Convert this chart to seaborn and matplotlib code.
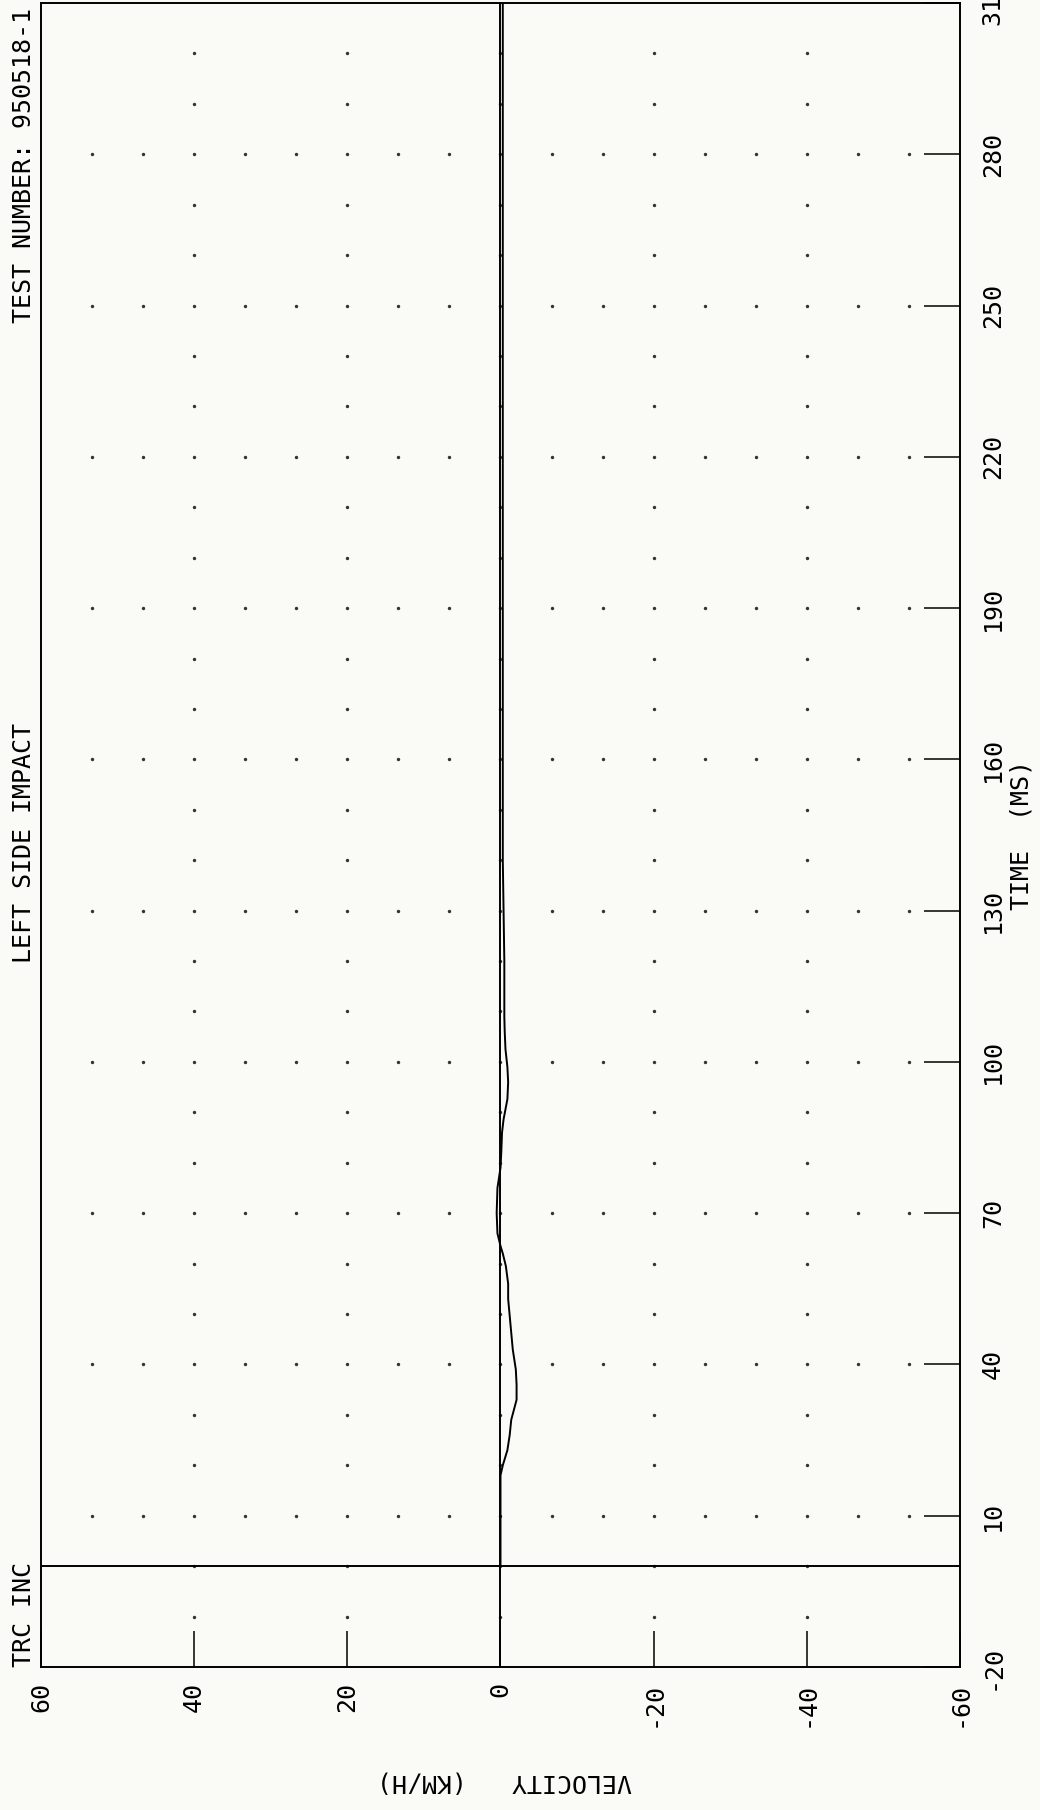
import numpy as np
import pandas as pd
import matplotlib
matplotlib.use("Agg")
import matplotlib.pyplot as plt
import seaborn as sns

# ---------------- data ----------------
time_ms = [0, 5, 10, 15, 18, 20, 23, 26, 29, 33, 36, 39, 43, 48, 53, 56, 59.5, 62, 63.5,
           66, 70, 75, 79, 82, 86, 88.6, 92.6, 96, 99, 102.5, 106, 109, 115, 120, 125,
           130, 135, 140, 150, 160, 170, 180, 190, 200, 220, 240, 260, 280, 300, 310]
velocity_kmh = [0, 0, 0, 0, 0, -0.3, -0.9, -1.2, -1.4, -2.1, -2.1, -2.0, -1.6, -1.3, -1.0, -1.0, -0.7, -0.3, 0.0,
                0.4, 0.5, 0.4, 0.0, -0.1, -0.2, -0.4, -0.9, -1.0, -0.9, -0.65, -0.55, -0.5, -0.5, -0.5, -0.45,
                -0.4, -0.35, -0.3, -0.3, -0.3, -0.3, -0.3, -0.3, -0.3, -0.3, -0.3, -0.3, -0.3, -0.3, -0.3]

time_ticks = [-20, 10, 40, 70, 100, 130, 160, 190, 220, 250, 280, 310]
time_tick_labels = ["-20", "10", "40", "70", "100", "130", "160", "190", "220", "250", "280", "310"]
velocity_ticks = [60, 40, 20, 0, -20, -40, -60]
velocity_tick_labels = ["60", "40", "20", "0", "-20", "-40", "-60"]

title_left = "TRC INC"
title_center = "LEFT SIDE IMPACT"
title_right = "TEST NUMBER: 950518-1"
x_label = "TIME  (MS)"
y_label = "VELOCITY   (KM/H)"

# ---------------- style ----------------
bg = "#fafaf6"
sns.set_theme(style="white")
plt.rcParams["font.family"] = ["DejaVu Sans Mono", "DejaVu Sans"]

W, H = 1040, 1810
fig = plt.figure(figsize=(W / 100, H / 100), dpi=100, facecolor=bg)
left_px, right_px, top_px, bottom_px = 41, 960, 3, 1667
ax = fig.add_axes([left_px / W, (H - bottom_px) / H,
                   (right_px - left_px) / W, (bottom_px - top_px) / H])
ax.set_facecolor(bg)

# dotted grid (dots at major x / minor y and minor x / major y)
major_t = time_ticks[1:-1]
minor_v = list(np.linspace(60, -60, 19)[1:-1])
minor_t = [t for t in range(-10, 310, 10) if t not in time_ticks]
major_v = velocity_ticks[1:-1]
dots = pd.DataFrame(
    [(v, t) for t in major_t for v in minor_v] +
    [(v, t) for t in minor_t for v in major_v],
    columns=["v", "t"])
sns.scatterplot(data=dots, x="v", y="t", s=6, color="#333333", linewidth=0, ax=ax, zorder=2)

# zero lines
ax.axvline(0, color="black", lw=1.4, zorder=3)
ax.axhline(0, color="black", lw=1.4, zorder=3)

# data trace
sns.lineplot(x=velocity_kmh, y=time_ms, sort=False, estimator=None,
             color="black", lw=1.4, ax=ax, zorder=4)

ax.set_xlim(60, -60)
ax.set_ylim(-20, 310)
ax.set_xlabel("")
ax.set_ylabel("")

ax.set_xticks(velocity_ticks)
ax.set_xticklabels(velocity_tick_labels)
ax.yaxis.tick_right()
ax.set_yticks(time_ticks)
ax.set_yticklabels(time_tick_labels)

ax.tick_params(axis="x", direction="in", length=26, width=1.1, color="black",
               pad=11, labelsize=18, labelrotation=90, bottom=True, top=False)
ax.tick_params(axis="y", direction="in", length=26, width=1.1, color="black",
               pad=15, labelsize=18, labelrotation=90, right=True, left=False,
               labelright=True, labelleft=False)
for lbl in ax.get_yticklabels():
    lbl.set_va("center")
    lbl.set_ha("left")
for lbl in ax.get_xticklabels() + ax.get_yticklabels():
    lbl.set_color("black")

for sp in ax.spines.values():
    sp.set_visible(True)
    sp.set_color("black")
    sp.set_linewidth(1.4)

# titles (rotated page)
fig.text(24 / W, (H - 1667) / H, title_left, rotation=90, ha="center", va="bottom",
         fontsize=18, color="black")
fig.text(24 / W, (H - 843) / H, title_center, rotation=90, ha="center", va="center",
         fontsize=18, color="black")
fig.text(24 / W, (H - 8) / H, title_right, rotation=90, ha="center", va="top",
         fontsize=18, color="black")

fig.text(1021 / W, (H - 835) / H, x_label, rotation=90, ha="center", va="center",
         fontsize=18, color="black")
fig.text(504 / W, (H - 1781) / H, y_label, rotation=180, ha="center", va="center",
         fontsize=18, color="black")

fig.savefig("out.png", dpi=100, facecolor=bg)
